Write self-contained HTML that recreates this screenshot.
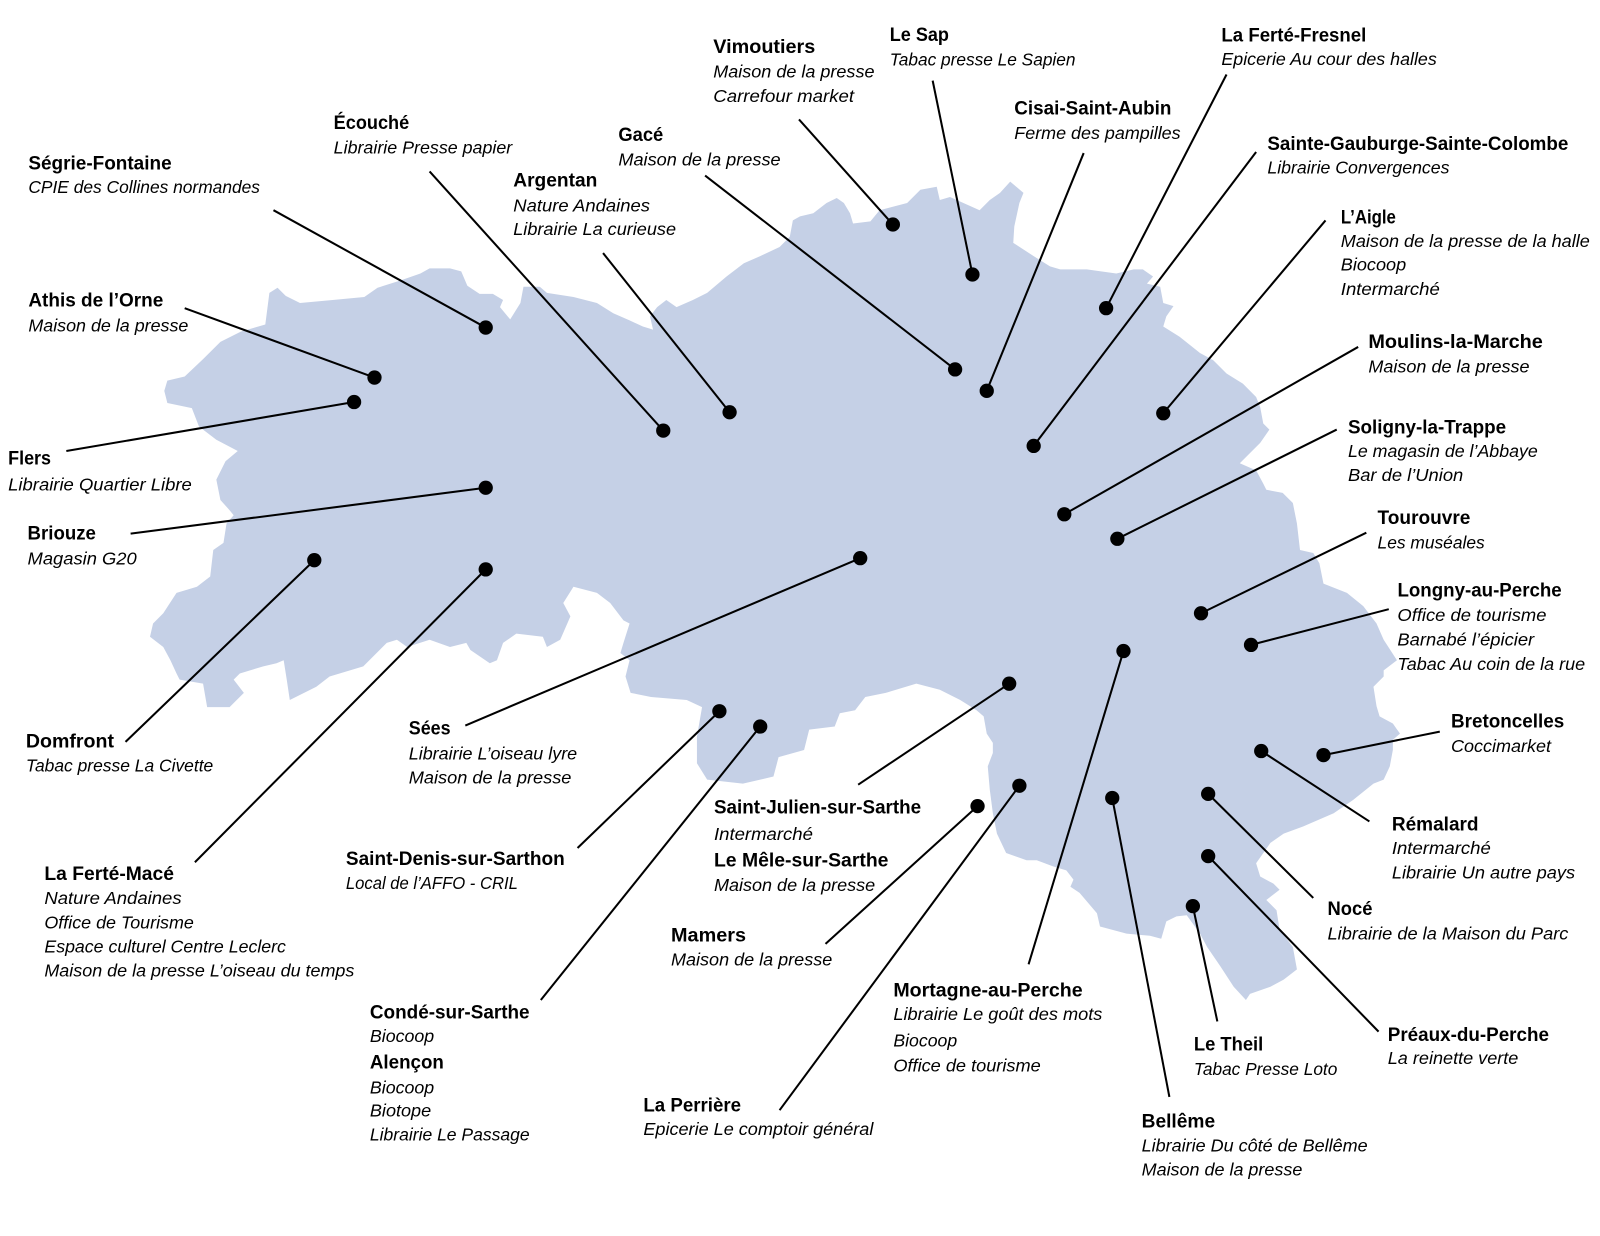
<!DOCTYPE html>
<html>
<head>
<meta charset="utf-8">
<style>
html,body{margin:0;padding:0;background:#fff;}
svg{display:block;}
.b{font-family:"Liberation Sans",Arial,sans-serif;font-weight:bold;font-size:19px;fill:#000;}
.i{font-family:"Liberation Sans",Arial,sans-serif;font-style:italic;font-size:17.3px;fill:#000;}
line{stroke:#000;stroke-width:2;}
circle{fill:#000;}
</style>
</head>
<body>
<svg width="1600" height="1236" viewBox="0 0 1568 1211.28" preserveAspectRatio="none" xmlns="http://www.w3.org/2000/svg">
<polygon fill="#c5d0e6" points="264,287 272,282 280,290 294,297 326,294 357,291 370,282 392,275 412,268 421,263 441,263 452,266 458,280 470,288 483,288 493,294 490,301 500,313 510,297 513,281 529,281 536,287 562,291 585,297 601,307 617,314 630,320 640,323 637,310 644,301 653,294 663,301 679,294 693,287 712,271 729,258 745,251 764,242 774,232 777,216 784,212 797,209 810,199 820,194 827,199 833,209 836,219 853,217 862,206 889,199 902,186 918,183 921,196 931,193 951,202 960,206 970,196 980,189 990,178 1003,189 999,199 994,222 993,238 1013,251 1029,261 1039,264 1065,264 1094,268 1111,264 1120,264 1130,271 1124,278 1137,281 1140,297 1150,300 1143,310 1140,320 1156,330 1176,346 1189,353 1202,366 1218,376 1231,389 1235,399 1238,415 1244,421 1235,434 1228,441 1215,454 1231,461 1238,474 1241,480 1257,483 1267,493 1271,513 1274,539 1287,542 1293,552 1297,572 1320,581 1336,594 1349,611 1356,627 1369,647 1356,657 1356,663 1346,673 1349,692 1352,702 1365,709 1372,719 1365,725 1365,735 1362,751 1356,764 1346,768 1326,784 1307,797 1277,810 1258,817 1245,826 1231,846 1235,859 1248,866 1254,872 1241,882 1251,892 1254,911 1267,928 1271,950 1258,960 1245,967 1225,974 1221,980 1209,967 1196,947 1183,928 1176,915 1163,897 1153,898 1143,903 1138,920 1127,917 1104,915 1078,908 1075,895 1058,875 1049,869 1052,862 1045,853 1032,849 1016,843 1006,843 986,836 977,817 973,797 970,774 968,751 973,738 973,728 967,719 964,702 957,696 941,686 921,676 898,670 868,679 848,683 838,696 823,699 818,712 793,715 788,735 763,742 758,761 728,768 693,764 683,748 683,722 688,693 673,686 638,683 618,679 613,663 617,647 608,640 611,630 617,611 611,608 598,591 585,581 562,575 552,591 559,604 549,627 536,634 532,624 506,621 493,630 487,647 480,650 461,637 457,630 441,634 421,627 399,634 389,627 379,630 356,653 323,663 310,673 284,686 281,666 278,647 271,650 258,653 235,660 229,666 239,679 225,693 203,693 199,670 176,666 173,660 167,647 160,634 147,624 150,611 160,601 173,581 193,575 206,565 209,539 219,532 222,513 229,505 225,500 216,490 212,470 221,452 233,442 212,431 195,418 188,400 164,395 161,383 164,373 181,369 199,352 216,335 236,325 260,318"/>

<!-- connectors -->
<line x1="476" y1="321" x2="268" y2="206"/>
<line x1="367" y1="370" x2="181" y2="302"/>
<line x1="650" y1="422" x2="421" y2="168"/>
<line x1="715" y1="404" x2="591" y2="248"/>
<line x1="936" y1="362" x2="691" y2="172"/>
<line x1="875" y1="220" x2="783" y2="117"/>
<line x1="953" y1="269" x2="914" y2="79"/>
<line x1="967" y1="383" x2="1062" y2="150"/>
<line x1="1084" y1="302" x2="1202" y2="73"/>
<line x1="1013" y1="437" x2="1231" y2="149"/>
<line x1="1140" y1="405" x2="1299" y2="216"/>
<line x1="1043" y1="504" x2="1331" y2="340"/>
<line x1="1095" y1="528" x2="1310" y2="421"/>
<line x1="1177" y1="601" x2="1339" y2="522"/>
<line x1="1226" y1="632" x2="1361" y2="597"/>
<line x1="1297" y1="740" x2="1411" y2="717"/>
<line x1="1236" y1="736" x2="1342" y2="805"/>
<line x1="1184" y1="778" x2="1287" y2="880"/>
<line x1="1184" y1="839" x2="1351" y2="1011"/>
<line x1="1169" y1="888" x2="1193" y2="1001"/>
<line x1="1090" y1="782" x2="1146" y2="1075"/>
<line x1="1101" y1="638" x2="1008" y2="945"/>
<line x1="999" y1="770" x2="764" y2="1088"/>
<line x1="958" y1="790" x2="809" y2="925"/>
<line x1="989" y1="670" x2="841" y2="769"/>
<line x1="745" y1="712" x2="530" y2="980"/>
<line x1="705" y1="697" x2="566" y2="831"/>
<line x1="843" y1="547" x2="456" y2="711"/>
<line x1="476" y1="558" x2="191" y2="845"/>
<line x1="308" y1="549" x2="123" y2="727"/>
<line x1="476" y1="478" x2="128" y2="523"/>
<line x1="347" y1="394" x2="65" y2="442"/>

<!-- dots -->
<circle cx="476" cy="321" r="7"/>
<circle cx="367" cy="370" r="7"/>
<circle cx="650" cy="422" r="7"/>
<circle cx="715" cy="404" r="7"/>
<circle cx="936" cy="362" r="7"/>
<circle cx="875" cy="220" r="7"/>
<circle cx="953" cy="269" r="7"/>
<circle cx="967" cy="383" r="7"/>
<circle cx="1084" cy="302" r="7"/>
<circle cx="1013" cy="437" r="7"/>
<circle cx="1140" cy="405" r="7"/>
<circle cx="1043" cy="504" r="7"/>
<circle cx="1095" cy="528" r="7"/>
<circle cx="1177" cy="601" r="7"/>
<circle cx="1226" cy="632" r="7"/>
<circle cx="1297" cy="740" r="7"/>
<circle cx="1236" cy="736" r="7"/>
<circle cx="1184" cy="778" r="7"/>
<circle cx="1184" cy="839" r="7"/>
<circle cx="1169" cy="888" r="7"/>
<circle cx="1090" cy="782" r="7"/>
<circle cx="1101" cy="638" r="7"/>
<circle cx="999" cy="770" r="7"/>
<circle cx="958" cy="790" r="7"/>
<circle cx="989" cy="670" r="7"/>
<circle cx="745" cy="712" r="7"/>
<circle cx="705" cy="697" r="7"/>
<circle cx="843" cy="547" r="7"/>
<circle cx="476" cy="558" r="7"/>
<circle cx="308" cy="549" r="7"/>
<circle cx="476" cy="478" r="7"/>
<circle cx="347" cy="394" r="7"/>

<!-- labels -->
<text class="b" x="27.8" y="165.9" textLength="140.4" lengthAdjust="spacingAndGlyphs">Ségrie-Fontaine</text>
<text class="i" x="27.8" y="189" textLength="227" lengthAdjust="spacingAndGlyphs">CPIE des Collines normandes</text>

<text class="b" x="327" y="126.5" textLength="74" lengthAdjust="spacingAndGlyphs">Écouché</text>
<text class="i" x="327" y="150.3" textLength="175" lengthAdjust="spacingAndGlyphs">Librairie Presse papier</text>

<text class="b" x="699" y="52" textLength="100" lengthAdjust="spacingAndGlyphs">Vimoutiers</text>
<text class="i" x="699" y="76" textLength="158" lengthAdjust="spacingAndGlyphs">Maison de la presse</text>
<text class="i" x="699" y="100" textLength="138" lengthAdjust="spacingAndGlyphs">Carrefour market</text>

<text class="b" x="872" y="40" textLength="58" lengthAdjust="spacingAndGlyphs">Le Sap</text>
<text class="i" x="872" y="64" textLength="182" lengthAdjust="spacingAndGlyphs">Tabac presse Le Sapien</text>

<text class="b" x="1197" y="40.8" textLength="142" lengthAdjust="spacingAndGlyphs">La Ferté-Fresnel</text>
<text class="i" x="1197" y="63.5" textLength="211" lengthAdjust="spacingAndGlyphs">Epicerie Au cour des halles</text>

<text class="b" x="994" y="112" textLength="154" lengthAdjust="spacingAndGlyphs">Cisai-Saint-Aubin</text>
<text class="i" x="994" y="136" textLength="163" lengthAdjust="spacingAndGlyphs">Ferme des pampilles</text>

<text class="b" x="606" y="138" textLength="44" lengthAdjust="spacingAndGlyphs">Gacé</text>
<text class="i" x="606" y="162" textLength="159" lengthAdjust="spacingAndGlyphs">Maison de la presse</text>

<text class="b" x="503" y="183" textLength="82.4" lengthAdjust="spacingAndGlyphs">Argentan</text>
<text class="i" x="503" y="207.4" textLength="134" lengthAdjust="spacingAndGlyphs">Nature Andaines</text>
<text class="i" x="503" y="230.3" textLength="159.5" lengthAdjust="spacingAndGlyphs">Librairie La curieuse</text>

<text class="b" x="1242" y="147" textLength="295" lengthAdjust="spacingAndGlyphs">Sainte-Gauburge-Sainte-Colombe</text>
<text class="i" x="1242" y="170" textLength="178.5" lengthAdjust="spacingAndGlyphs">Librairie Convergences</text>

<text class="b" x="1314" y="219" textLength="54" lengthAdjust="spacingAndGlyphs">L’Aigle</text>
<text class="i" x="1314" y="242" textLength="244" lengthAdjust="spacingAndGlyphs">Maison de la presse de la halle</text>
<text class="i" x="1314" y="265" textLength="64" lengthAdjust="spacingAndGlyphs">Biocoop</text>
<text class="i" x="1314" y="289" textLength="97" lengthAdjust="spacingAndGlyphs">Intermarché</text>

<text class="b" x="27.8" y="300.5" textLength="132.2" lengthAdjust="spacingAndGlyphs">Athis de l’Orne</text>
<text class="i" x="27.8" y="325" textLength="156.8" lengthAdjust="spacingAndGlyphs">Maison de la presse</text>

<text class="b" x="1341" y="341" textLength="171" lengthAdjust="spacingAndGlyphs">Moulins-la-Marche</text>
<text class="i" x="1341" y="365" textLength="158" lengthAdjust="spacingAndGlyphs">Maison de la presse</text>

<text class="b" x="1321" y="424.7" textLength="155" lengthAdjust="spacingAndGlyphs">Soligny-la-Trappe</text>
<text class="i" x="1321" y="448" textLength="186" lengthAdjust="spacingAndGlyphs">Le magasin de l’Abbaye</text>
<text class="i" x="1321" y="471.5" textLength="113" lengthAdjust="spacingAndGlyphs">Bar de l’Union</text>

<text class="b" x="8" y="455" textLength="42" lengthAdjust="spacingAndGlyphs">Flers</text>
<text class="i" x="8" y="480.5" textLength="180" lengthAdjust="spacingAndGlyphs">Librairie Quartier Libre</text>

<text class="b" x="1350" y="513.5" textLength="91" lengthAdjust="spacingAndGlyphs">Tourouvre</text>
<text class="i" x="1350" y="537.4" textLength="105" lengthAdjust="spacingAndGlyphs">Les muséales</text>

<text class="b" x="27" y="528.5" textLength="67" lengthAdjust="spacingAndGlyphs">Briouze</text>
<text class="i" x="27" y="553" textLength="107" lengthAdjust="spacingAndGlyphs">Magasin G20</text>

<text class="b" x="1369.5" y="584.5" textLength="161" lengthAdjust="spacingAndGlyphs">Longny-au-Perche</text>
<text class="i" x="1369.5" y="608.5" textLength="146" lengthAdjust="spacingAndGlyphs">Office de tourisme</text>
<text class="i" x="1369.5" y="632.5" textLength="134" lengthAdjust="spacingAndGlyphs">Barnabé l’épicier</text>
<text class="i" x="1369.5" y="656.5" textLength="184" lengthAdjust="spacingAndGlyphs">Tabac Au coin de la rue</text>

<text class="b" x="1422" y="713" textLength="111" lengthAdjust="spacingAndGlyphs">Bretoncelles</text>
<text class="i" x="1422" y="737" textLength="98" lengthAdjust="spacingAndGlyphs">Coccimarket</text>

<text class="b" x="25.4" y="732.7" textLength="86.3" lengthAdjust="spacingAndGlyphs">Domfront</text>
<text class="i" x="25.4" y="756.2" textLength="183.6" lengthAdjust="spacingAndGlyphs">Tabac presse La Civette</text>

<text class="b" x="400.6" y="720" textLength="41" lengthAdjust="spacingAndGlyphs">Sées</text>
<text class="i" x="400.6" y="744.2" textLength="165" lengthAdjust="spacingAndGlyphs">Librairie L’oiseau lyre</text>
<text class="i" x="400.6" y="767.7" textLength="159.4" lengthAdjust="spacingAndGlyphs">Maison de la presse</text>

<text class="b" x="699.7" y="797" textLength="203" lengthAdjust="spacingAndGlyphs">Saint-Julien-sur-Sarthe</text>
<text class="i" x="699.7" y="823" textLength="97" lengthAdjust="spacingAndGlyphs">Intermarché</text>
<text class="b" x="699.7" y="849.3" textLength="171" lengthAdjust="spacingAndGlyphs">Le Mêle-sur-Sarthe</text>
<text class="i" x="699.7" y="873.2" textLength="158" lengthAdjust="spacingAndGlyphs">Maison de la presse</text>

<text class="b" x="1364" y="814" textLength="85" lengthAdjust="spacingAndGlyphs">Rémalard</text>
<text class="i" x="1364" y="837" textLength="97" lengthAdjust="spacingAndGlyphs">Intermarché</text>
<text class="i" x="1364" y="860.8" textLength="179.6" lengthAdjust="spacingAndGlyphs">Librairie Un autre pays</text>

<text class="b" x="339" y="847.7" textLength="214.5" lengthAdjust="spacingAndGlyphs">Saint-Denis-sur-Sarthon</text>
<text class="i" x="339" y="871.2" textLength="168.5" lengthAdjust="spacingAndGlyphs">Local de l’AFFO - CRIL</text>

<text class="b" x="43.5" y="862.4" textLength="127" lengthAdjust="spacingAndGlyphs">La Ferté-Macé</text>
<text class="i" x="43.5" y="886" textLength="134.5" lengthAdjust="spacingAndGlyphs">Nature Andaines</text>
<text class="i" x="43.5" y="909.8" textLength="146.5" lengthAdjust="spacingAndGlyphs">Office de Tourisme</text>
<text class="i" x="43.5" y="933.6" textLength="236.7" lengthAdjust="spacingAndGlyphs">Espace culturel Centre Leclerc</text>
<text class="i" x="43.5" y="957" textLength="303.8" lengthAdjust="spacingAndGlyphs">Maison de la presse L’oiseau du temps</text>

<text class="b" x="1301" y="896.7" textLength="44" lengthAdjust="spacingAndGlyphs">Nocé</text>
<text class="i" x="1301" y="920.6" textLength="236" lengthAdjust="spacingAndGlyphs">Librairie de la Maison du Parc</text>

<text class="b" x="657.6" y="922.8" textLength="73.5" lengthAdjust="spacingAndGlyphs">Mamers</text>
<text class="i" x="657.6" y="946.4" textLength="158" lengthAdjust="spacingAndGlyphs">Maison de la presse</text>

<text class="b" x="875.5" y="976.8" textLength="185.5" lengthAdjust="spacingAndGlyphs">Mortagne-au-Perche</text>
<text class="i" x="875.5" y="999.6" textLength="204.8" lengthAdjust="spacingAndGlyphs">Librairie Le goût des mots</text>
<text class="i" x="875.5" y="1025.8" textLength="62.5" lengthAdjust="spacingAndGlyphs">Biocoop</text>
<text class="i" x="875.5" y="1050.3" textLength="144.4" lengthAdjust="spacingAndGlyphs">Office de tourisme</text>

<text class="b" x="362.5" y="998" textLength="156.5" lengthAdjust="spacingAndGlyphs">Condé-sur-Sarthe</text>
<text class="i" x="362.5" y="1021" textLength="63" lengthAdjust="spacingAndGlyphs">Biocoop</text>
<text class="b" x="362.5" y="1047" textLength="72.5" lengthAdjust="spacingAndGlyphs">Alençon</text>
<text class="i" x="362.5" y="1071.5" textLength="63" lengthAdjust="spacingAndGlyphs">Biocoop</text>
<text class="i" x="362.5" y="1094.4" textLength="60" lengthAdjust="spacingAndGlyphs">Biotope</text>
<text class="i" x="362.5" y="1117.5" textLength="156.5" lengthAdjust="spacingAndGlyphs">Librairie Le Passage</text>

<text class="b" x="1360" y="1020.2" textLength="158" lengthAdjust="spacingAndGlyphs">Préaux-du-Perche</text>
<text class="i" x="1360" y="1042.7" textLength="128" lengthAdjust="spacingAndGlyphs">La reinette verte</text>

<text class="b" x="1170" y="1029.7" textLength="68" lengthAdjust="spacingAndGlyphs">Le Theil</text>
<text class="i" x="1170" y="1053.5" textLength="140.6" lengthAdjust="spacingAndGlyphs">Tabac Presse Loto</text>

<text class="b" x="630.5" y="1089.5" textLength="95.7" lengthAdjust="spacingAndGlyphs">La Perrière</text>
<text class="i" x="630.5" y="1112.3" textLength="225.4" lengthAdjust="spacingAndGlyphs">Epicerie Le comptoir général</text>

<text class="b" x="1118.8" y="1105.1" textLength="72" lengthAdjust="spacingAndGlyphs">Bellême</text>
<text class="i" x="1118.8" y="1128.7" textLength="221.5" lengthAdjust="spacingAndGlyphs">Librairie Du côté de Bellême</text>
<text class="i" x="1118.8" y="1152.2" textLength="157.5" lengthAdjust="spacingAndGlyphs">Maison de la presse</text>
</svg>
</body>
</html>
